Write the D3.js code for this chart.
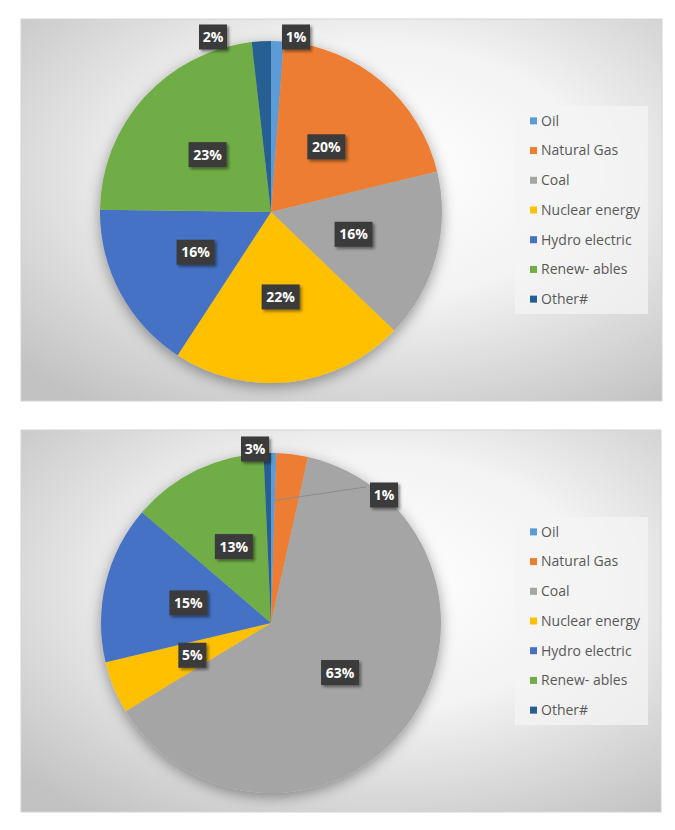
<!DOCTYPE html>
<html><head><meta charset="utf-8">
<script src="https://cdn.jsdelivr.net/npm/d3@7"></script>
<style>html,body{margin:0;padding:0;background:#fff;}svg{display:block;}</style>
</head><body>
<svg id="c" width="675" height="830"></svg>
<script>
// ---- data ----
const categories = ["Oil", "Natural Gas", "Coal", "Nuclear energy", "Hydro electric", "Renew- ables", "Other#"];
const colors = ["#5B9BD5", "#ED7D31", "#A5A5A5", "#FFC000", "#4472C4", "#70AD47", "#255E91"];
const valuesTop = [1.2, 20, 16, 22, 16, 23, 1.8];
const labelsTop = ["1%", "20%", "16%", "22%", "16%", "23%", "2%"];
const valuesBottom = [0.5, 3.0, 62.8, 5.0, 15.0, 13.0, 0.7];
const labelsBottom = ["1%", "3%", "63%", "5%", "15%", "13%", ""];

const svg = d3.select("#c");
const defs = svg.append("defs");

const grad = defs.append("radialGradient").attr("id", "bg")
  .attr("cx", "55%").attr("cy", "40%").attr("r", "75%");
grad.append("stop").attr("offset", "0").attr("stop-color", "#ffffff");
grad.append("stop").attr("offset", "0.45").attr("stop-color", "#f3f3f3");
grad.append("stop").attr("offset", "1").attr("stop-color", "#c2c2c2");

const sh = defs.append("filter").attr("id", "pieShadow")
  .attr("x", "-20%").attr("y", "-20%").attr("width", "140%").attr("height", "140%");
sh.append("feDropShadow").attr("dx", 0).attr("dy", 4).attr("stdDeviation", 7)
  .attr("flood-color", "#000").attr("flood-opacity", 0.38);

const lsh = defs.append("filter").attr("id", "lblShadow")
  .attr("x", "-30%").attr("y", "-30%").attr("width", "170%").attr("height", "170%");
lsh.append("feDropShadow").attr("dx", 2).attr("dy", 2).attr("stdDeviation", 1.5)
  .attr("flood-color", "#000").attr("flood-opacity", 0.45);

function drawChart(cfg) {
  const g = svg.append("g");
  g.append("rect").attr("x", cfg.px).attr("y", cfg.py).attr("width", cfg.pw).attr("height", cfg.ph)
    .attr("fill", "url(#bg)").attr("stroke", "#d4d4d4").attr("stroke-width", 1);

  const pie = d3.pie().sort(null).value(d => d);
  const arcs = pie(cfg.values);
  const arc = d3.arc().innerRadius(0).outerRadius(cfg.r);
  const labelArc = d3.arc().innerRadius(cfg.r * 0.5).outerRadius(cfg.r * 0.5);
  const leadArc = d3.arc().innerRadius(cfg.r * 0.72).outerRadius(cfg.r * 0.72);

  const pg = g.append("g").attr("transform", `translate(${cfg.cx},${cfg.cy})`);
  pg.append("g").attr("filter", "url(#pieShadow)")
    .selectAll("path").data(arcs).join("path")
    .attr("d", arc).attr("fill", (d, i) => colors[i]);

  // leader lines
  arcs.forEach((d, i) => {
    const p = cfg.place[i];
    if (p && p.leader && cfg.labels[i]) {
      const s = leadArc.centroid(d);
      pg.append("line").attr("x1", s[0]).attr("y1", s[1])
        .attr("x2", p.dx - 18).attr("y2", p.dy - 8)
        .attr("stroke", "#8c8c8c").attr("stroke-width", 1);
    }
  });

  // labels
  arcs.forEach((d, i) => {
    const txt = cfg.labels[i];
    if (!txt) return;
    const p = cfg.place[i];
    const c = p ? [p.dx, p.dy] : labelArc.centroid(d);
    const lg = pg.append("g").attr("transform", `translate(${c[0]},${c[1]})`);
    const w = txt.length * 10 + 8, h = 25;
    lg.append("rect").attr("x", -w / 2).attr("y", -h / 2).attr("width", w).attr("height", h)
      .attr("fill", "#3b3b3b").attr("filter", "url(#lblShadow)");
    lg.append("text").attr("text-anchor", "middle").attr("dy", "0.36em")
      .attr("fill", "#ffffff").attr("font-family", "'Open Sans', sans-serif")
      .attr("font-weight", "bold").attr("font-size", 14).text(txt);
  });

  // legend
  const lx = cfg.legend.x, ly = cfg.legend.y, lw = cfg.legend.w, lh = cfg.legend.h;
  g.append("rect").attr("x", lx).attr("y", ly).attr("width", lw).attr("height", lh)
    .attr("fill", "#f4f4f4").attr("fill-opacity", 0.75);
  const yb = d3.scaleBand().domain(categories).range([ly, ly + lh]);
  const items = g.selectAll("g.li").data(categories).join("g").attr("class", "li")
    .attr("transform", c => `translate(${lx + 15},${yb(c) + yb.bandwidth() / 2})`);
  items.append("rect").attr("x", 0).attr("y", -3.5).attr("width", 7).attr("height", 7)
    .attr("fill", (c, i) => colors[i]);
  items.append("text").attr("x", 11).attr("dy", "0.35em")
    .attr("font-family", "'Open Sans', sans-serif").attr("font-size", 14)
    .attr("fill", "#595959").text(c => c);
}

drawChart({
  px: 21, py: 19, pw: 641, ph: 382, cx: 271, cy: 212, r: 171,
  values: valuesTop, labels: labelsTop,
  place: { 0: { dx: 25, dy: -175 }, 6: { dx: -58, dy: -175 } },
  legend: { x: 515, y: 106, w: 133, h: 208 }
});
drawChart({
  px: 21, py: 430, pw: 640, ph: 382, cx: 271, cy: 623, r: 170,
  values: valuesBottom, labels: labelsBottom,
  place: { 0: { dx: 113, dy: -128, leader: true }, 1: { dx: -16, dy: -174 } },
  legend: { x: 515, y: 517, w: 133, h: 208 }
});
</script>
</body></html>
